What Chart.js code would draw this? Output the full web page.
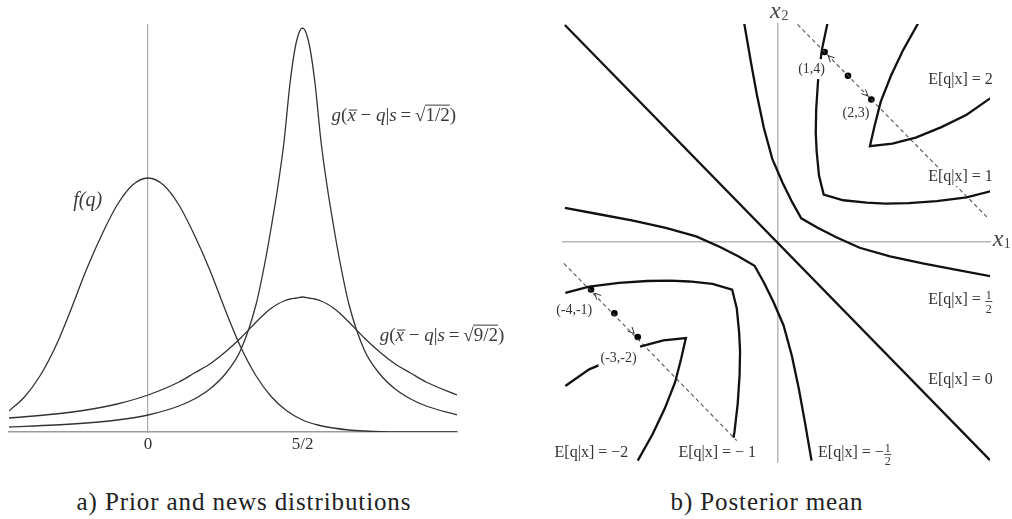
<!DOCTYPE html>
<html>
<head>
<meta charset="utf-8">
<script src="https://cdn.jsdelivr.net/npm/chart.js@4.4.1/dist/chart.umd.min.js"></script>
<style>
    body { margin: 0; background: #fff; width: 1012px; height: 519px; position: relative; overflow: hidden; }
    #prior { position: absolute; left: 0; top: 0; }
    #posterior { position: absolute; left: 540px; top: 0; }
    .caption { position: absolute; top: 489px; font-family: "Liberation Serif", serif; font-size: 25px; line-height: 25px;
               letter-spacing: 0.9px; color: #222; white-space: nowrap; transform: translateX(-50%); }
</style>
</head>
<body>
<canvas id="prior" width="520" height="460"></canvas>
<canvas id="posterior" width="472" height="470"></canvas>
<div class="caption" style="left:244px">a) Prior and news distributions</div>
<div class="caption" style="left:767px">b) Posterior mean</div>

<script>
// panel a) prior and news densities (read off the figure)
const qPrior = [-2.25, -2, -1.75, -1.5, -1.25, -1, -0.75, -0.5, -0.25, 0, 0.25, 0.5, 0.75, 1, 1.25, 1.5, 1.75, 2, 2.25, 2.5, 2.75, 3, 3.25, 3.5, 4, 4.5, 5];
const priorF = [0.021, 0.035, 0.056, 0.085, 0.122, 0.162, 0.197, 0.227, 0.247, 0.254, 0.247, 0.227, 0.197, 0.162, 0.122, 0.085, 0.056, 0.035, 0.021, 0.012, 0.007, 0.004, 0.002, 0.001, 0, 0, 0];

const qNews = [-2.25, -1.5, -1, -0.5, 0, 0.5, 0.75, 1, 1.25, 1.5, 1.75, 1.9, 2, 2.1, 2.2, 2.3, 2.4, 2.5, 2.6, 2.7, 2.8, 2.9, 3, 3.1, 3.25, 3.5, 3.75, 4, 4.25, 4.5, 5];
const newsNarrow = [0.005, 0.007, 0.009, 0.012, 0.017, 0.026, 0.033, 0.043, 0.058, 0.082, 0.128, 0.172, 0.207, 0.245, 0.290, 0.350, 0.390, 0.404, 0.390, 0.350, 0.290, 0.245, 0.207, 0.172, 0.128, 0.082, 0.058, 0.043, 0.033, 0.026, 0.017];
const newsWide = [0.014, 0.018, 0.022, 0.028, 0.037, 0.050, 0.059, 0.068, 0.080, 0.094, 0.110, 0.119, 0.124, 0.128, 0.131, 0.133, 0.134, 0.135, 0.134, 0.133, 0.131, 0.128, 0.124, 0.119, 0.110, 0.094, 0.080, 0.068, 0.059, 0.050, 0.037];

const qTicks = [0, 2.5];
const qTickLabels = ['0', '5/2'];

// panel b) contours of E[q|x] in the (x1, x2) plane
const contourE0 = [[-4.56, 4.57], [4.54, -4.59]];
const contourEHalf = [[-0.72, 4.6], [-0.58, 3.8], [-0.45, 3.1], [-0.3, 2.4], [-0.12, 1.75], [0.1, 1.25], [0.3, 0.85], [0.5, 0.5],
                      [0.85, 0.3], [1.25, 0.1], [1.75, -0.12], [2.4, -0.3], [3.1, -0.45], [3.8, -0.58], [4.55, -0.72]];
const contourEMinusHalf = [[0.72, -4.6], [0.58, -3.8], [0.45, -3.1], [0.3, -2.4], [0.12, -1.75], [-0.1, -1.25], [-0.3, -0.85], [-0.5, -0.5],
                           [-0.85, -0.3], [-1.25, -0.1], [-1.75, 0.12], [-2.4, 0.3], [-3.1, 0.45], [-3.8, 0.58], [-4.56, 0.72]];
const contourE1 = [[1.06, 4.6], [0.94, 4.04], [0.86, 3.4], [0.82, 2.8], [0.81, 2.3], [0.83, 1.9], [0.88, 1.4], [0.98, 1.0],
                   [1.4, 0.88], [1.9, 0.83], [2.3, 0.81], [2.8, 0.82], [3.4, 0.86], [4.04, 0.94], [4.55, 1.07]];
const contourEMinus1 = [[-4.55, -1.07], [-4.04, -0.94], [-3.4, -0.86], [-2.8, -0.82], [-2.3, -0.81], [-1.9, -0.83], [-1.4, -0.88], [-0.98, -1.0],
                        [-0.88, -1.4], [-0.83, -1.9], [-0.81, -2.3], [-0.82, -2.8], [-0.86, -3.4], [-0.93, -4.0], [-0.95, -4.12]];
const contourE2 = [[3.0, 4.6], [2.68, 4.04], [2.42, 3.5], [2.2, 2.95], [2.07, 2.45], [1.97, 2.02],
                   [2.45, 2.07], [2.95, 2.2], [3.5, 2.42], [4.04, 2.68], [4.55, 3.03]];
// the (-3,-2) label sits on this one, so it has a gap
const contourEMinus2 = [[-4.55, -3.03], [-4.04, -2.68], [-3.8, -2.58], [-3.4, null], [-2.95, -2.2], [-2.45, -2.07], [-1.97, -2.02],
                        [-2.07, -2.45], [-2.2, -2.95], [-2.42, -3.5], [-2.68, -4.04], [-3.0, -4.6]];

const newsLineUpper = [[0.42, 4.58], [4.5, 0.5]];
const newsLineLower = [[-4.58, -0.45], [-0.88, -4.18]];
const samplesUpper = [[1, 4], [1.5, 3.5], [2, 3]];
const samplesLower = [[-4, -1], [-3.5, -1.5], [-3, -2]];
const sampleLabels = ['(1,4)', '(2,3)', '(-4,-1)', '(-3,-2)'];

const serif = '"Liberation Serif", serif';
const toXY = pts => pts.map(p => ({x: p[0], y: p[1]}));
const zipXY = (xs, ys) => xs.map((x, i) => ({x: x, y: ys[i]}));

// ---------- panel a ----------
function drawNewsLabel(ctx, x0, yMid, arg, size) {
    const it = 'italic ' + size + 'px ' + serif;
    const rm = size + 'px ' + serif;
    const base = yMid + size * 0.34;
    const pieces = [[it, 'g'], [rm, '('], [it, 'x', 'bar'], [rm, ' \u2212 '], [it, 'q'], [rm, '|'], [it, 's'],
                    [rm, '\u2009=\u2009'], [rm, '\u221A'], [rm, arg, 'root'], [rm, ')']];
    let cx = x0;
    ctx.textAlign = 'left';
    ctx.textBaseline = 'alphabetic';
    ctx.lineWidth = 1;
    pieces.forEach(([font, t, deco]) => {
        ctx.font = font;
        const w = ctx.measureText(t).width;
        ctx.fillText(t, cx, base);
        if (deco === 'bar') {
            ctx.beginPath();
            ctx.moveTo(cx + 1.5, base - size * 0.6);
            ctx.lineTo(cx + w + 1.5, base - size * 0.6);
            ctx.stroke();
        }
        if (deco === 'root') {
            ctx.beginPath();
            ctx.moveTo(cx - 0.5, base - size * 0.86);
            ctx.lineTo(cx + w, base - size * 0.86);
            ctx.stroke();
        }
        cx += w;
    });
}

const priorText = {
    id: 'priorText',
    afterDatasetsDraw(chart) {
        const {ctx, scales: {x, y}} = chart;
        ctx.save();
        ctx.fillStyle = '#3a3a3a';
        ctx.strokeStyle = '#3a3a3a';
        ctx.font = 'italic 20px ' + serif;
        ctx.textAlign = 'left';
        ctx.textBaseline = 'middle';
        ctx.fillText('f(q)', x.getPixelForValue(-1.21), y.getPixelForValue(0.231));
        drawNewsLabel(ctx, x.getPixelForValue(2.97), y.getPixelForValue(0.317), '1/2', 19);
        drawNewsLabel(ctx, x.getPixelForValue(3.75), y.getPixelForValue(0.097), '9/2', 19);
        ctx.restore();
    }
};

function curve(data) {
    return {data: data, showLine: true, borderColor: '#333', borderWidth: 1.3, pointRadius: 0,
            cubicInterpolationMode: 'monotone', fill: false};
}

new Chart(document.getElementById('prior'), {
    type: 'scatter',
    data: {
        datasets: [
            curve(zipXY(qPrior, priorF)),
            curve(zipXY(qNews, newsNarrow)),
            curve(zipXY(qNews, newsWide))
        ]
    },
    options: {
        responsive: false,
        animation: false,
        events: [],
        layout: {padding: {left: 9, right: 63, top: 25, bottom: 0}},
        plugins: {legend: {display: false}, tooltip: {enabled: false}},
        scales: {
            x: {
                type: 'linear', min: -2.25, max: 5, position: 'bottom',
                grid: {display: false, drawTicks: false},
                border: {display: true, color: '#9a9a9a', width: 1.5},
                afterBuildTicks: s => { s.ticks = qTicks.map(v => ({value: v})); },
                afterFit: s => { s.height = 28; },
                ticks: {
                    padding: 2, color: '#333', maxRotation: 0, autoSkip: false,
                    font: {family: serif, size: 17},
                    callback: v => qTickLabels[qTicks.indexOf(v)]
                }
            },
            y: {
                type: 'linear', min: 0, max: 0.407, position: {x: 0},
                grid: {display: false},
                border: {display: true, color: '#a8a8a8', width: 1.2},
                ticks: {display: false}
            }
        }
    },
    plugins: [priorText]
});

// ---------- panel b ----------
const contourLabels = [
    {text: 'E[q|x] = 2', x: 4.6, y: 3.41, align: 'right'},
    {text: 'E[q|x] = 1', x: 4.6, y: 1.37, align: 'right'},
    {text: 'E[q|x] = ', frac: ['1', '2'], x: 4.6, y: -1.22, align: 'right'},
    {text: 'E[q|x] = 0', x: 4.6, y: -2.91, align: 'right'},
    {text: 'E[q|x] = \u22122', x: -4.78, y: -4.44, align: 'left'},
    {text: 'E[q|x] = \u2212 1', x: -2.13, y: -4.44, align: 'left'},
    {text: 'E[q|x] = \u2212', frac: ['1', '2'], x: 0.86, y: -4.44, align: 'left'}
];
const sampleLabelAt = [[0.72, 3.64], [1.67, 2.71], [-4.36, -1.43], [-3.41, -2.45]];

function drawContourLabel(ctx, xs, ys, lab) {
    const px = xs.getPixelForValue(lab.x);
    const py = ys.getPixelForValue(lab.y);
    ctx.font = '16px ' + serif;
    const mainW = ctx.measureText(lab.text).width;
    let fracW = 0;
    if (lab.frac) {
        ctx.font = '12px ' + serif;
        fracW = Math.max(ctx.measureText(lab.frac[0]).width, ctx.measureText(lab.frac[1]).width) + 2;
    }
    const left = lab.align === 'right' ? px - mainW - fracW : px;
    // text sits on a white patch, as in the original figure
    ctx.fillStyle = '#fff';
    ctx.fillRect(left - 2, py - 9, mainW + fracW + 4, 18);
    ctx.fillStyle = '#333';
    ctx.font = '16px ' + serif;
    ctx.textAlign = 'left';
    ctx.textBaseline = 'middle';
    ctx.fillText(lab.text, left, py);
    if (lab.frac) {
        const fx = left + mainW + fracW / 2;
        ctx.font = '12px ' + serif;
        ctx.textAlign = 'center';
        ctx.textBaseline = 'alphabetic';
        ctx.fillText(lab.frac[0], fx, py - 1);
        ctx.fillText(lab.frac[1], fx, py + 12.5);
        ctx.fillRect(fx - fracW / 2 + 0.5, py + 1, fracW - 1, 0.9);
    }
}

function drawArrowHead(ctx, from, to) {
    const dx = to.x - from.x, dy = to.y - from.y;
    const len = Math.hypot(dx, dy);
    const ux = dx / len, uy = dy / len;
    const tipX = to.x - ux * 5, tipY = to.y - uy * 5;
    [0.45, -0.45].forEach(a => {
        const c = Math.cos(a), s = Math.sin(a);
        const bx = -(ux * c - uy * s), by = -(ux * s + uy * c);
        ctx.beginPath();
        ctx.moveTo(tipX, tipY);
        ctx.lineTo(tipX + bx * 7, tipY + by * 7);
        ctx.stroke();
    });
}

const posteriorText = {
    id: 'posteriorText',
    afterDatasetsDraw(chart) {
        const {ctx, scales: {x, y}} = chart;
        const pix = p => ({x: x.getPixelForValue(p[0]), y: y.getPixelForValue(p[1])});
        ctx.save();
        ctx.fillStyle = '#333';
        ctx.strokeStyle = '#333';
        ctx.lineWidth = 1;
        [samplesUpper, samplesLower].forEach(s => {
            drawArrowHead(ctx, pix(s[1]), pix(s[0]));
            drawArrowHead(ctx, pix(s[1]), pix(s[2]));
        });
        contourLabels.forEach(lab => drawContourLabel(ctx, x, y, lab));

        ctx.font = '14px ' + serif;
        ctx.textAlign = 'center';
        ctx.textBaseline = 'middle';
        sampleLabels.forEach((t, i) => {
            const p = pix(sampleLabelAt[i]);
            const w = ctx.measureText(t).width;
            ctx.fillStyle = '#fff';
            ctx.fillRect(p.x - w / 2 - 2, p.y - 10, w + 4, 20);
            ctx.fillStyle = '#333';
            ctx.fillText(t, p.x, p.y);
        });

        // axis names x1, x2
        ctx.fillStyle = '#444';
        ctx.textAlign = 'left';
        ctx.textBaseline = 'alphabetic';
        const ax1 = pix([4.6, -0.09]);
        const ax2 = pix([-0.17, 4.71]);
        ctx.font = 'italic 24px ' + serif;
        ctx.fillText('x', ax1.x, ax1.y);
        ctx.fillText('x', ax2.x, ax2.y);
        ctx.font = '14px ' + serif;
        ctx.fillText('1', ax1.x + 11, ax1.y + 2);
        ctx.fillText('2', ax2.x + 11.5, ax2.y + 2);
        ctx.restore();
    }
};

function contour(pts) {
    return {data: toXY(pts), showLine: true, borderColor: '#111', borderWidth: 2.3, pointRadius: 0, tension: 0, fill: false};
}
function newsLine(pts) {
    return {data: toXY(pts), showLine: true, borderColor: '#555', borderWidth: 1.1, borderDash: [4, 3], pointRadius: 0, fill: false};
}
function samples(pts) {
    return {data: toXY(pts), showLine: false, pointRadius: 3.3, pointBackgroundColor: '#000', pointBorderColor: '#000', pointBorderWidth: 0};
}

new Chart(document.getElementById('posterior'), {
    type: 'scatter',
    data: {
        datasets: [
            contour(contourE0),
            contour(contourEHalf),
            contour(contourEMinusHalf),
            contour(contourE1),
            contour(contourEMinus1),
            contour(contourE2),
            contour(contourEMinus2),
            newsLine(newsLineUpper),
            newsLine(newsLineLower),
            samples(samplesUpper),
            samples(samplesLower)
        ]
    },
    options: {
        responsive: false,
        animation: false,
        events: [],
        layout: {padding: {left: 23, right: 22, top: 24, bottom: 8}},
        plugins: {legend: {display: false}, tooltip: {enabled: false}},
        scales: {
            x: {
                type: 'linear', min: -4.6, max: 4.54, position: {y: 0},
                grid: {display: false},
                border: {display: true, color: '#b8b8b8', width: 1.5},
                ticks: {display: false}
            },
            y: {
                type: 'linear', min: -4.63, max: 4.59, position: {x: 0},
                grid: {display: false},
                border: {display: true, color: '#b8b8b8', width: 1.5},
                ticks: {display: false}
            }
        }
    },
    plugins: [posteriorText]
});
</script>
</body>
</html>
